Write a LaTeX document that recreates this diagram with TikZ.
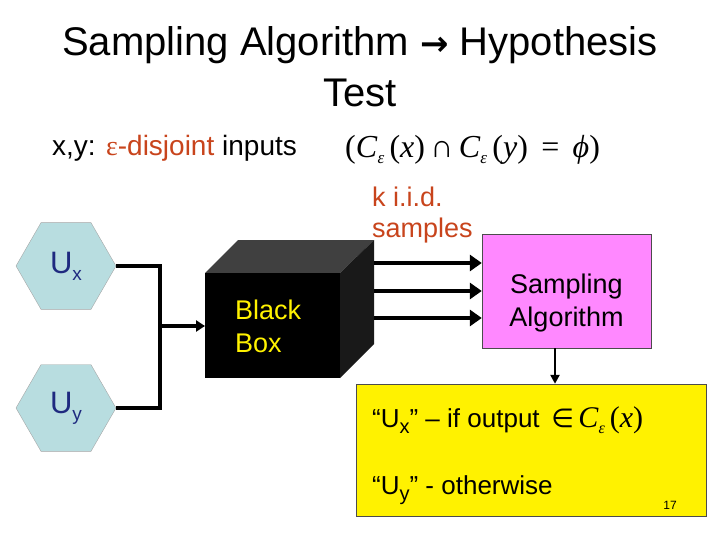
\documentclass[tikz,border=0pt]{standalone}
\usepackage{fontspec}
\setmainfont{Liberation Sans}
\newfontfamily\serifm{Liberation Serif}
\newfontfamily\djv{DejaVu Sans}
\usetikzlibrary{arrows.meta,shapes.geometric}
\definecolor{orng}{HTML}{C8441C}
\definecolor{hexb}{HTML}{B8DDE0}
\definecolor{ublue}{HTML}{1F2A80}
\definecolor{pinkb}{HTML}{FF88FF}
\begin{document}
\begin{tikzpicture}[x=1pt,y=-1pt,
  hexa/.style={regular polygon,regular polygon sides=6,fill=hexb,draw=gray!70,minimum size=100pt,inner sep=0pt,font=\fontsize{31}{33}\selectfont,text=ublue},
  wire/.style={line width=4pt},
  arr/.style={line width=4.5pt,-{Triangle[length=12pt,width=16pt]}},
  txt/.style={inner sep=0pt,anchor=west}]
\useasboundingbox (0,0) rectangle (720,540);
\node[font=\fontsize{40}{42}\selectfont] (t1) at (360,45) {Sampling Algorithm {\djv\bfseries\fontsize{34}{34}\selectfont →} Hypothesis};
\node[font=\fontsize{40}{42}\selectfont] (t2) at (360,93) {Test};
\node[inner sep=0pt,anchor=west,font=\fontsize{28}{30}\selectfont] (xy) at (52,148) {x,y: \textcolor{orng}{\serifm ε}\textcolor{orng}{-disjoint} inputs};
\node[inner sep=0pt,anchor=west,font=\serifm\fontsize{32}{34}\selectfont] (f) at (345,150) {(\textit{C}\raisebox{-6pt}{\fontsize{17}{17}\selectfont\textit{ε}}\,(\textit{x})\,∩\,\textit{C}\raisebox{-6pt}{\fontsize{17}{17}\selectfont\textit{ε}}\,(\textit{y})\, = \,\textit{ϕ})};
\node[inner sep=0pt,anchor=west,text=orng,font=\fontsize{27}{29}\selectfont,align=left] (k) at (372,215) {k i.i.d.\\[2pt]samples};
\node[hexa] (ux) at (66,266) {U\raisebox{-7pt}{\fontsize{19}{19}\selectfont x}};
\node[hexa] (uy) at (66,408) {U\raisebox{-7pt}{\fontsize{19}{19}\selectfont y}};
% black box
\fill[black!75] (205,273) -- (238,240) -- (374,240) -- (340,273) -- cycle;
\fill[black!90] (340,273) -- (374,240) -- (374,344) -- (340,378) -- cycle;
\fill[black] (205,273) rectangle (340,378);
\node[inner sep=0pt,anchor=west,text=yellow,font=\fontsize{27}{33}\selectfont,align=left] (bb) at (235,326) {Black\\Box};
\coordinate (bbl) at (205,326);
\coordinate (j) at (160,326);
\draw[wire] (ux.east) -| (j) |- (uy.east);
\draw[line width=4pt,-{Triangle[length=9pt,width=11pt]}] (j) -- (bbl);
% sampling algorithm
\node[draw=black!70,fill=pinkb,minimum width=169pt,minimum height=114pt,inner sep=0pt,font=\fontsize{27}{33}\selectfont,align=center,text depth=0pt] (sa) at (566.5,291) {\raisebox{-1pt}{\parbox{150pt}{\centering Sampling\\Algorithm}}};
\foreach \yy in {263,291,318}{\draw[arr] (374,\yy) -- (sa.west |- 0,\yy);}
% yellow
\node[draw=black!70,fill=yellow,minimum width=350pt,minimum height=132pt,inner sep=0pt] (yb) at (531,450) {};
\draw[line width=2.5pt,-{Triangle[length=9pt,width=9pt]}] (sa.south -| 555,0) -- (yb.north -| 555,0);
\node[txt,font=\fontsize{26}{28}\selectfont] (l1) at (372,420) {“U\raisebox{-6pt}{\fontsize{20}{20}\selectfont x}” – if output {\djv\,∈\,}{\serifm\fontsize{30}{30}\selectfont\textit{C}\raisebox{-6pt}{\fontsize{16}{16}\selectfont\textit{ε}}\,(\textit{x})}};
\node[txt,font=\fontsize{26}{28}\selectfont] (l2) at (372,490) {“U\raisebox{-6pt}{\fontsize{20}{20}\selectfont y}” - otherwise};
\node[font=\fontsize{12}{12}\selectfont] (n) at (670,505) {17};
\end{tikzpicture}
\end{document}
